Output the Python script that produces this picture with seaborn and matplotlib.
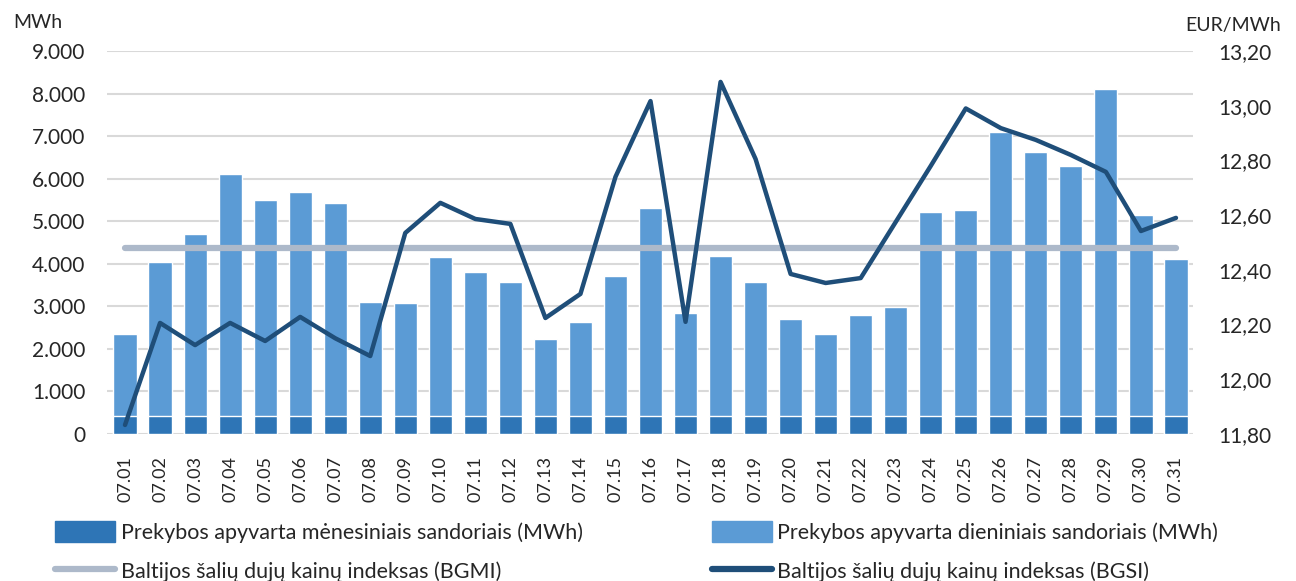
import numpy as np
import pandas as pd
import seaborn as sns
import matplotlib.pyplot as plt
from matplotlib.patches import Patch
from matplotlib.lines import Line2D
from matplotlib.ticker import FuncFormatter, MultipleLocator

days = ["07.%02d" % d for d in range(1, 32)]

# total daily turnover (MWh) incl. monthly part
total_mwh = [2350, 4040, 4690, 6100, 5490, 5680, 5420, 3100, 3070, 4150,
             3800, 3570, 2230, 2630, 3710, 5300, 2840, 4180, 3570, 2700,
             2350, 2790, 2980, 5210, 5260, 7090, 6620, 6290, 8100, 5140, 4110]
monthly_mwh = [420] * 31

bgsi = [11.833, 12.206, 12.125, 12.206, 12.140, 12.228, 12.150, 12.085, 12.535, 12.645,
        12.586, 12.568, 12.224, 12.312, 12.740, 13.017, 12.210, 13.087, 12.805, 12.385,
        12.352, 12.370, 12.575, 12.780, 12.990, 12.918, 12.875, 12.820, 12.758, 12.542, 12.590]
bgmi = [12.48] * 31

df = pd.DataFrame({"Data": days, "Viso": total_mwh, "Men": monthly_mwh,
                   "BGSI": bgsi, "BGMI": bgmi})

c_daily = "#5B9BD5"
c_month = "#2E75B6"
c_bgsi = "#1F4E79"
c_bgmi = "#ADB9CA"

sns.set_theme(style="white")
plt.rcParams['font.family'] = ['Lato', 'DejaVu Sans']

fig = plt.figure(figsize=(12.96, 5.81), dpi=100)
ax = fig.add_axes([107.5 / 1296, 147 / 581, 1086 / 1296, 383 / 581])

sns.barplot(data=df, x="Data", y="Viso", color=c_daily, width=0.66,
            saturation=1, ax=ax, zorder=2)
sns.barplot(data=df, x="Data", y="Men", color=c_month, width=0.66,
            saturation=1, ax=ax, zorder=3)

ax.set_ylim(0, 9000)
ax.set_xlim(-0.5, 30.5)
ax.yaxis.set_major_locator(MultipleLocator(1000))
ax.yaxis.set_major_formatter(FuncFormatter(lambda v, p: f"{int(v):,}".replace(",", ".")))
ax.grid(axis="y", color="#D9D9D9", lw=1.5, zorder=0)
ax.set_axisbelow(True)
ax.set_xlabel("")
ax.set_ylabel("")
ax.tick_params(axis="y", labelsize=15, length=0, pad=16)
ax.tick_params(axis="x", labelsize=13, length=0, pad=16, rotation=90)
for s in ax.spines.values():
    s.set_visible(False)

ax2 = ax.twinx()
sns.lineplot(data=df, x="Data", y="BGMI", color=c_bgmi, lw=4.5, ax=ax2,
             solid_capstyle="round")
sns.lineplot(data=df, x="Data", y="BGSI", color=c_bgsi, lw=3.2, ax=ax2,
             solid_capstyle="round")
ax2.set_ylim(11.8, 13.2)
ax2.yaxis.set_major_locator(MultipleLocator(0.2))
ax2.yaxis.set_major_formatter(FuncFormatter(lambda v, p: f"{v:.2f}".replace(".", ",")))
ax2.tick_params(axis="y", labelsize=15, length=0, pad=18)
ax2.set_ylabel("")
ax2.set_xlim(-0.5, 30.5)
ax2.grid(False)
for s in ax2.spines.values():
    s.set_visible(False)

fig.text(13 / 1296, 1 - 22 / 581, "MWh", fontsize=14, va="center", ha="left")
fig.text(1281 / 1296, 1 - 26 / 581, "EUR/MWh", fontsize=14, va="center", ha="right")

handles = [Patch(color=c_month), Line2D([], [], color=c_bgmi, lw=4.5),
           Patch(color=c_daily), Line2D([], [], color=c_bgsi, lw=4.5)]
labels = ["Prekybos apyvarta mėnesiniais sandoriais (MWh)",
          "Baltijos šalių dujų kainų indeksas (BGMI)",
          "Prekybos apyvarta dieniniais sandoriais (MWh)",
          "Baltijos šalių dujų kainų indeksas (BGSI)"]
fig.legend(handles, labels, ncol=2, loc="upper left",
           bbox_to_anchor=(55 / 1296, 1 - 521 / 581), frameon=False,
           fontsize=15.5, handlelength=2.8, handleheight=1.1, handletextpad=0.25,
           columnspacing=6.0, labelspacing=0.8, borderaxespad=0, borderpad=0)

fig.savefig("out.png", dpi=100)
